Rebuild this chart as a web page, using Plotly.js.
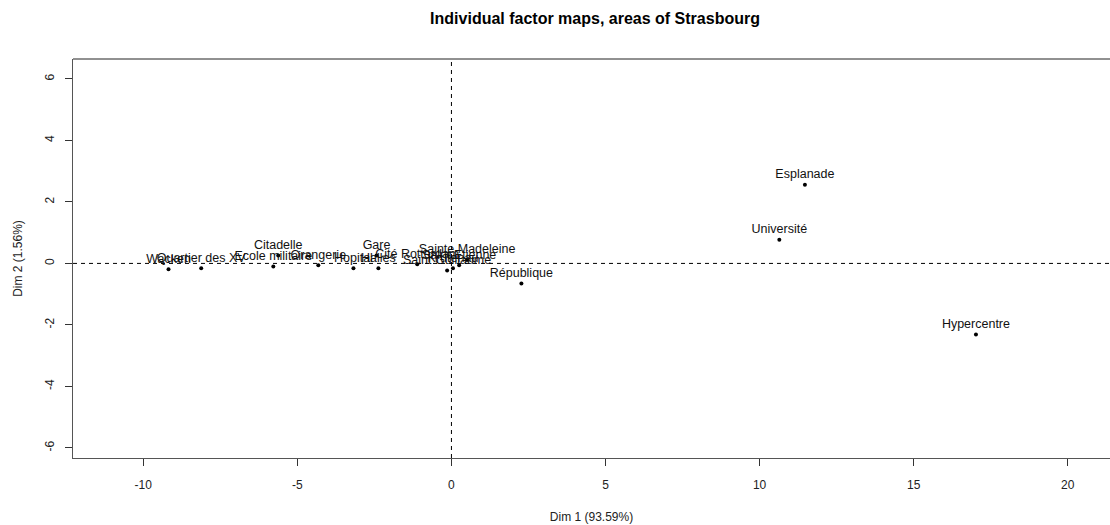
<!DOCTYPE html>
<html>
<head>
<meta charset="utf-8">
<script src="https://cdn.plot.ly/plotly-3.0.1.min.js"></script>
<style>html,body{margin:0;padding:0;background:#fff;}#chart{width:1110px;height:525px;}</style>
</head>
<body>
<div id="chart"></div>
<script>
// Individuals of the PCA (areas of Strasbourg)
var areas = ["Wacken", "Quartier des XV", "Ecole militaire", "Citadelle", "Orangerie",
  "Hopital", "Halles", "Gare", "Cité Rotterdam", "Saint Guillaume", "Krutenau",
  "Saint Etienne", "Sainte Madeleine", "République", "Université", "Esplanade", "Hypercentre"];
var dim1 = [-9.18, -8.12, -5.78, -5.62, -4.32, -3.18, -2.37, -2.43, -1.11, -0.14, 0.05,
  0.25, 0.51, 2.27, 10.64, 11.47, 17.02];
var dim2 = [-0.19, -0.16, -0.10, 0.26, -0.06, -0.16, -0.16, 0.26, -0.03, -0.23, -0.16,
  -0.06, 0.13, -0.65, 0.77, 2.56, -2.31];
var xTicks = [-10, -5, 0, 5, 10, 15, 20];
var yTicks = [-6, -4, -2, 0, 2, 4, 6];
var xRange = [-12.28, 21.37];
var yRange = [-6.33, 6.65];

var font = "Liberation Sans, Arial, sans-serif";
var trace = {
  x: dim1, y: dim2, text: areas,
  type: "scatter", mode: "markers+text",
  textposition: "top center",
  marker: {color: "#000", size: 4},
  textfont: {family: font, size: 12.5, color: "#111"},
  hoverinfo: "text", cliponaxis: false
};
var layout = {
  width: 1110, height: 525,
  margin: {l: 73, r: 0, t: 59, b: 67},
  paper_bgcolor: "#fff", plot_bgcolor: "#fff",
  showlegend: false,
  title: {text: "<b>Individual factor maps, areas of Strasbourg</b>",
    font: {family: font, size: 16, color: "#000"},
    x: 0.5034, xref: "paper", xanchor: "center", y: 0.965, yanchor: "middle"},
  xaxis: {range: xRange, tickvals: xTicks, ticktext: xTicks.map(String),
    showgrid: false, zeroline: false, showline: true, linecolor: "#555", linewidth: 1,
    ticks: "outside", ticklen: 7, tickcolor: "#333", tickwidth: 1,
    ticklabelstandoff: 9,
    tickfont: {family: font, size: 12, color: "#222"},
    title: {text: "Dim 1 (93.59%)", font: {family: font, size: 12, color: "#222"}, standoff: 21}},
  yaxis: {range: yRange, tickvals: yTicks, ticktext: yTicks.map(String),
    showgrid: false, zeroline: false, showline: true, linecolor: "#555", linewidth: 1,
    ticks: "outside", ticklen: 7, tickcolor: "#333", tickwidth: 1, tickangle: -90,
    ticklabelstandoff: 6,
    tickfont: {family: font, size: 12, color: "#222"},
    title: {text: "Dim 2 (1.56%)", font: {family: font, size: 12, color: "#222"}, standoff: 18}},
  shapes: [
    {type: "line", xref: "paper", yref: "paper", x0: 0, x1: 1, y0: 1, y1: 1,
      line: {color: "#222", width: 1}},
    {type: "line", xref: "x", yref: "paper", x0: 0, x1: 0, y0: 0, y1: 1,
      line: {color: "#000", width: 1, dash: "4px,4px"}},
    {type: "line", xref: "paper", yref: "y", x0: 0, x1: 1, y0: 0, y1: 0,
      line: {color: "#000", width: 1, dash: "4px,4px"}}
  ]
};
Plotly.newPlot("chart", [trace], layout, {displayModeBar: false, staticPlot: true});
</script>
</body>
</html>
